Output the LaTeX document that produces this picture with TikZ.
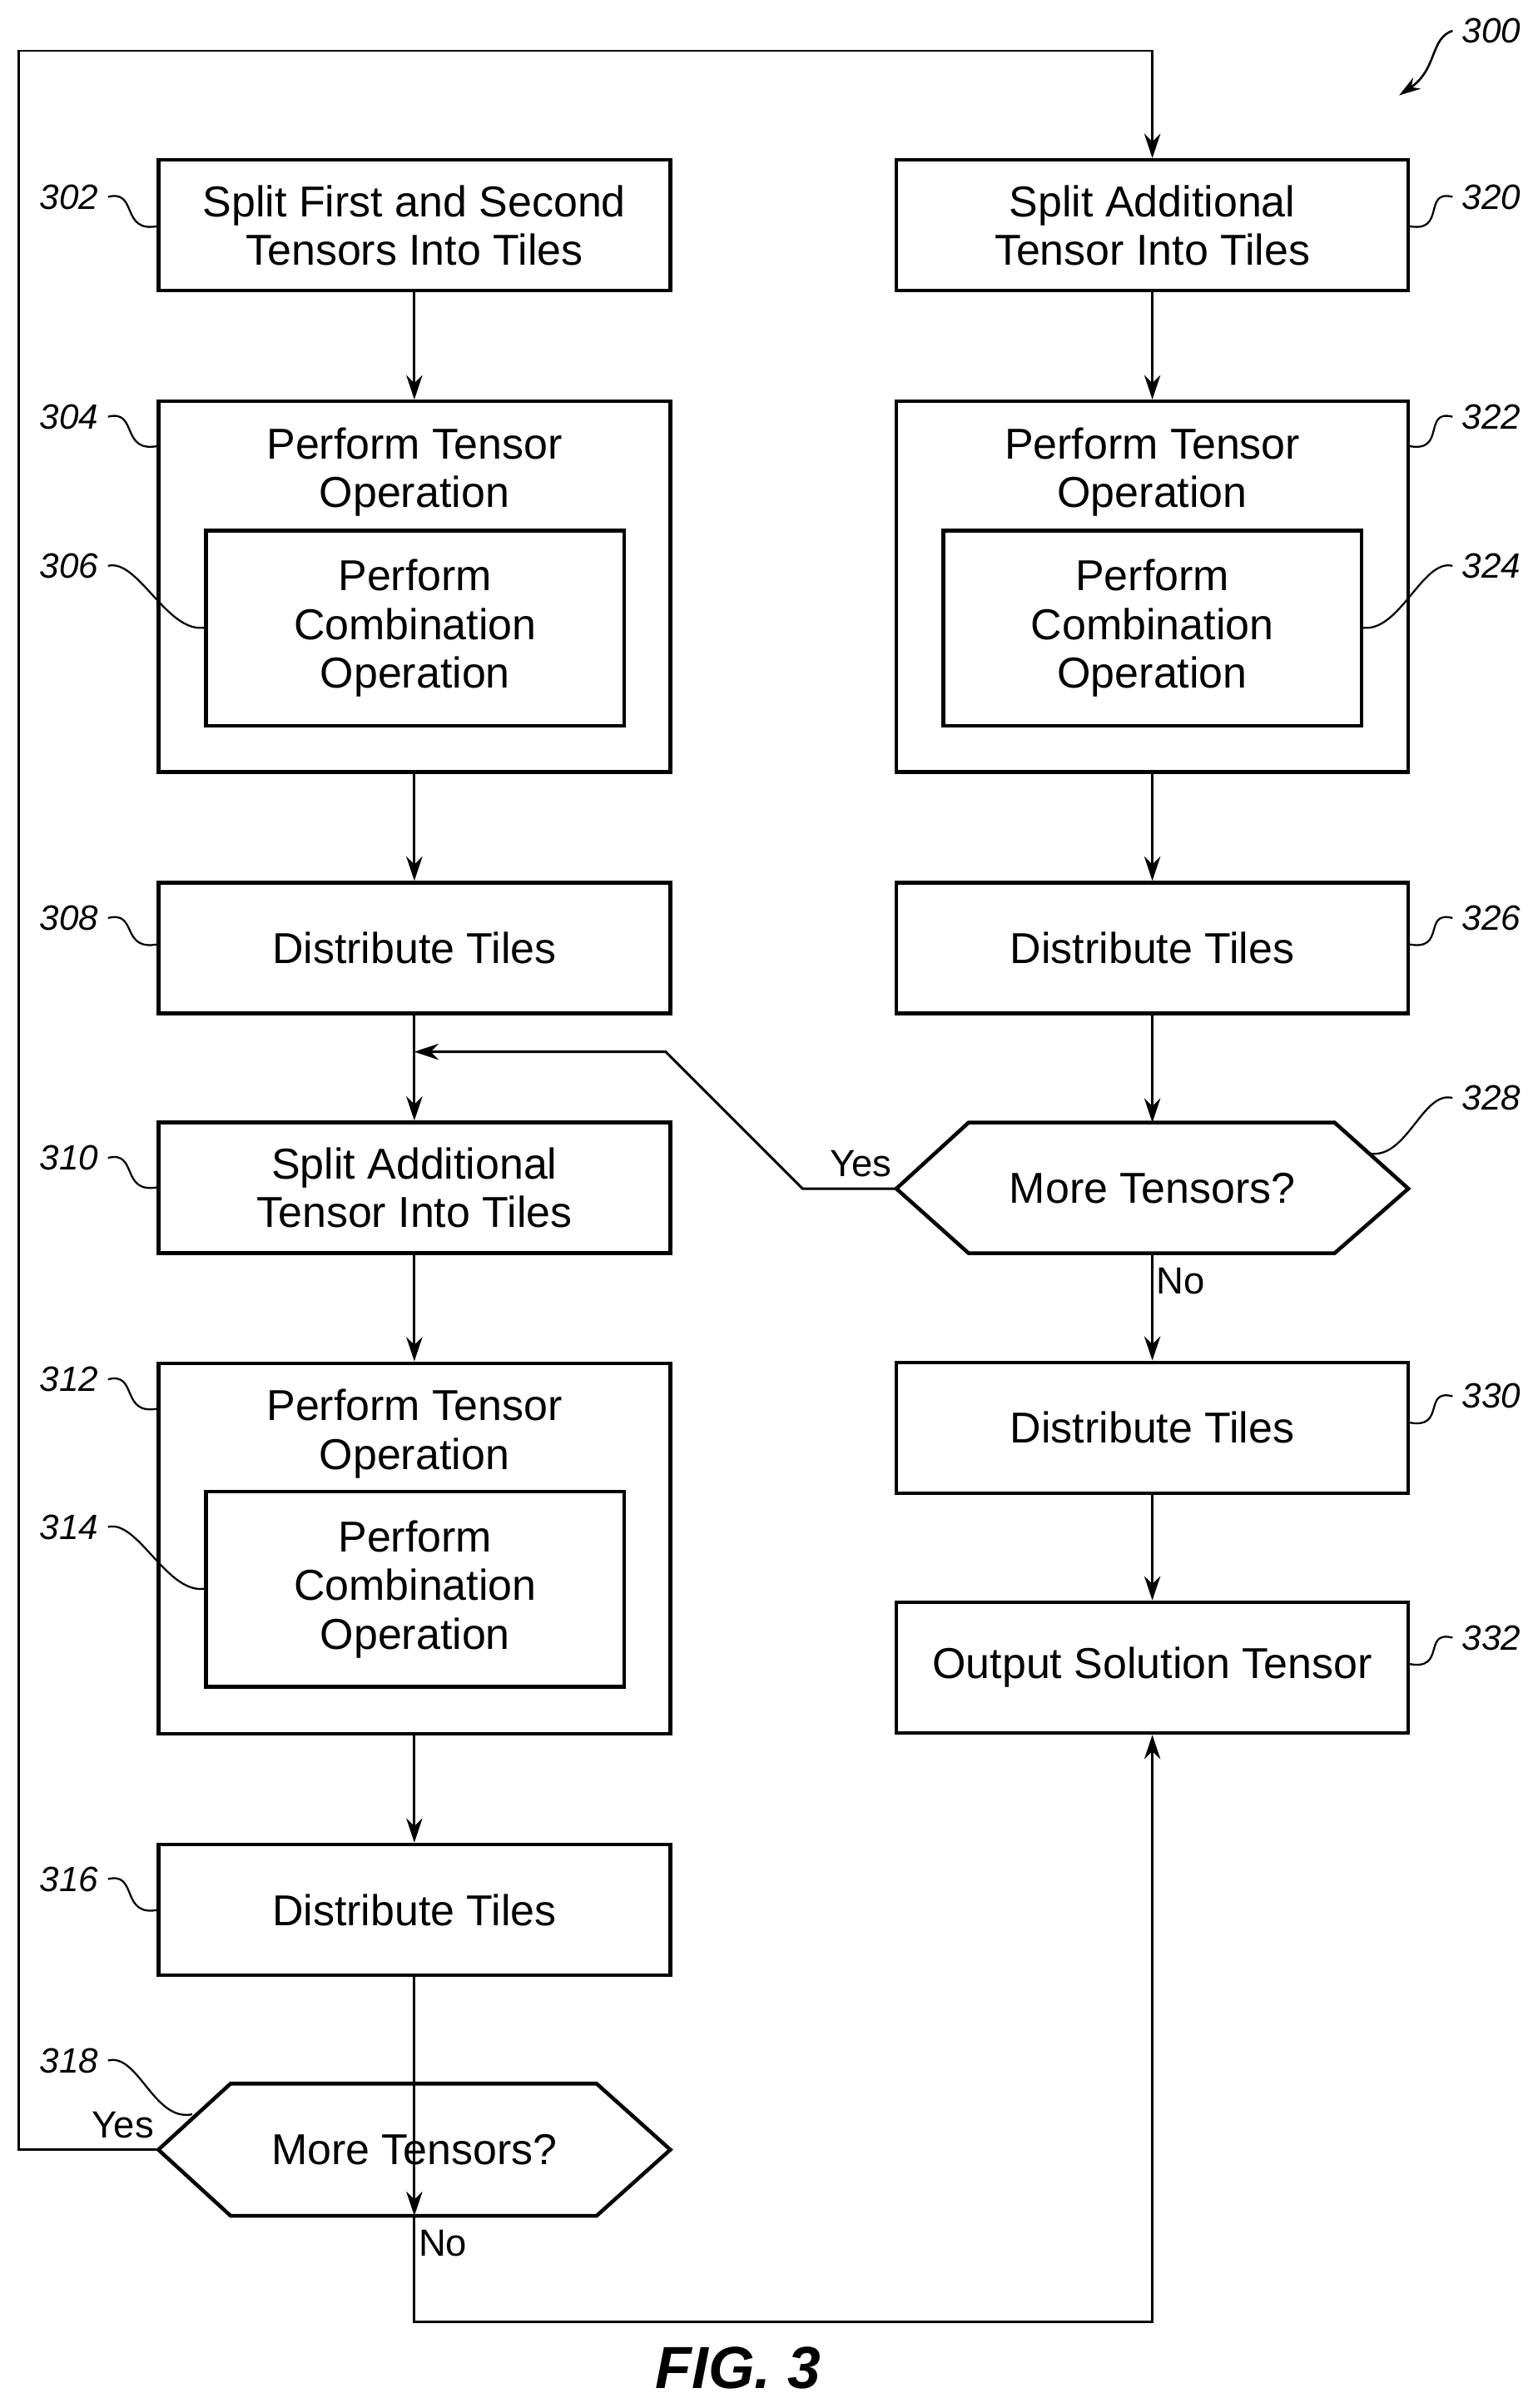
\documentclass[tikz,border=0pt]{standalone}
\usepackage{fontspec}
\setmainfont{Liberation Sans}
\usetikzlibrary{arrows.meta}
\begin{document}
\begin{tikzpicture}[x=0.02cm,y=-0.02cm,
  box/.style={draw,line width=1.4pt,minimum width=6.66cm,minimum height=1.7cm,align=center,font=\fontsize{16}{18}\selectfont,inner sep=0pt},
  big/.style={box,minimum height=4.82cm,text depth=3.1cm},
  inner/.style={box,minimum width=5.44cm,minimum height=2.54cm},
  arr/.style={-{Stealth[length=9pt,width=6pt]},line width=0.9pt},
  ln/.style={line width=0.9pt},
  lbl/.style={font=\fontsize{13}{15}\selectfont\itshape},
  lead/.style={line width=0.7pt}]
\useasboundingbox (0,0) rectangle (1000,1566);
% left column
\node[box] (b302) at (269.5,146.5) {Split First and Second\\Tensors Into Tiles};
\node[big] (b304) at (269.5,381.5) {Perform Tensor\\Operation};
\node[inner] (b306) at (270,408.5) {Perform\\Combination\\Operation};
\node[box] (b308) at (269.5,616.5) {Distribute Tiles};
\node[box] (b310) at (269.5,772.5) {Split Additional\\Tensor Into Tiles};
\node[big] (b312) at (269.5,1007) {Perform Tensor\\Operation};
\node[inner] (b314) at (270,1033.5) {Perform\\Combination\\Operation};
\node[box] (b316) at (269.5,1242) {Distribute Tiles};
\draw[line width=1.4pt] (150,1355) -- (388,1355) -- (436,1398) -- (388,1441) -- (150,1441) -- (103,1398) -- cycle;
\node[font=\fontsize{16}{18}\selectfont] (d318) at (269.5,1398) {More Tensors?};
\coordinate (d318l) at (103,1398);
\coordinate (d318b) at (269.5,1441);
% right column
\node[box] (b320) at (749.5,146.5) {Split Additional\\Tensor Into Tiles};
\node[big] (b322) at (749.5,381.5) {Perform Tensor\\Operation};
\node[inner] (b324) at (749.5,408.5) {Perform\\Combination\\Operation};
\node[box] (b326) at (749.5,616.5) {Distribute Tiles};
\draw[line width=1.4pt] (630,730) -- (868,730) -- (916,773) -- (868,815) -- (630,815) -- (583,773) -- cycle;
\node[font=\fontsize{16}{18}\selectfont] (d328) at (749.5,773) {More Tensors?};
\coordinate (d328l) at (583,773);
\coordinate (d328t) at (749.5,730);
\coordinate (d328b) at (749.5,815);
\node[box] (b330) at (749.5,928.5) {Distribute Tiles};
\node[box] (b332) at (749.5,1084.5) {Output Solution Tensor};
% arrows
\draw[arr] (b302) -- (b304);
\draw[arr] (b304) -- (b308);
\draw[arr] (b308) -- (b310);
\draw[arr] (b310) -- (b312);
\draw[arr] (b312) -- (b316);
\draw[arr] (b316) -- (d318b);
\draw[arr] (b320) -- (b322);
\draw[arr] (b322) -- (b326);
\draw[arr] (b326) -- (d328t);
\draw[arr] (d328b) -- (b330);
\draw[arr] (b330) -- (b332);
\draw[arr] (d318l) -- (12,1398) -- (12,33) -- (749.5,33) -- (b320.north);
\draw[arr] (d328l) -- (522,773) -- (433,684) -- (269.5,684);
\draw[arr] (d318b) -- (269.5,1510) -- (749.5,1510) -- (b332.south);
\node[font=\fontsize{14}{16}\selectfont] at (560,757) {Yes};
\node[font=\fontsize{14}{16}\selectfont] at (768,833) {No};
\node[font=\fontsize{14}{16}\selectfont] at (80,1382) {Yes};
\node[font=\fontsize{14}{16}\selectfont] at (288,1459) {No};
% reference labels
\foreach \t/\lx/\ly/\ex/\ey in {302/45/128/103/147,304/45/271/103/290,306/45/368/134/408,308/45/597/103/614,310/45/753/103/772,312/45/897/103/916,314/45/993/134/1033,316/45/1222/103/1242,318/45/1340/125/1375}{
  \node[lbl] (l\t) at (\lx,\ly) {\t};
  \draw[lead] (l\t.east) .. controls ({\lx+45},{\ly-5}) and ({\ex-25},{\ey+5}) .. (\ex,\ey);
}
\foreach \t/\lx/\ly/\ex/\ey in {320/970/128/916/147,322/970/271/916/290,324/970/368/885/408,326/970/597/916/614,328/970/714/890/750,330/970/908/916/925,332/970/1065/916/1082}{
  \node[lbl] (l\t) at (\lx,\ly) {\t};
  \draw[lead] (l\t.west) .. controls ({\lx-45},{\ly-5}) and ({\ex+25},{\ey+5}) .. (\ex,\ey);
}
\node[lbl] (l300) at (970,20) {300};
\draw[-{Stealth[length=8pt,width=5pt]},line width=0.8pt] (l300.west) .. controls (930,25) and (935,45) .. (910,62);
\node[font=\fontsize{22}{24}\selectfont\bfseries\itshape] (fig) at (480,1540) {FIG. 3};
\end{tikzpicture}
\end{document}
